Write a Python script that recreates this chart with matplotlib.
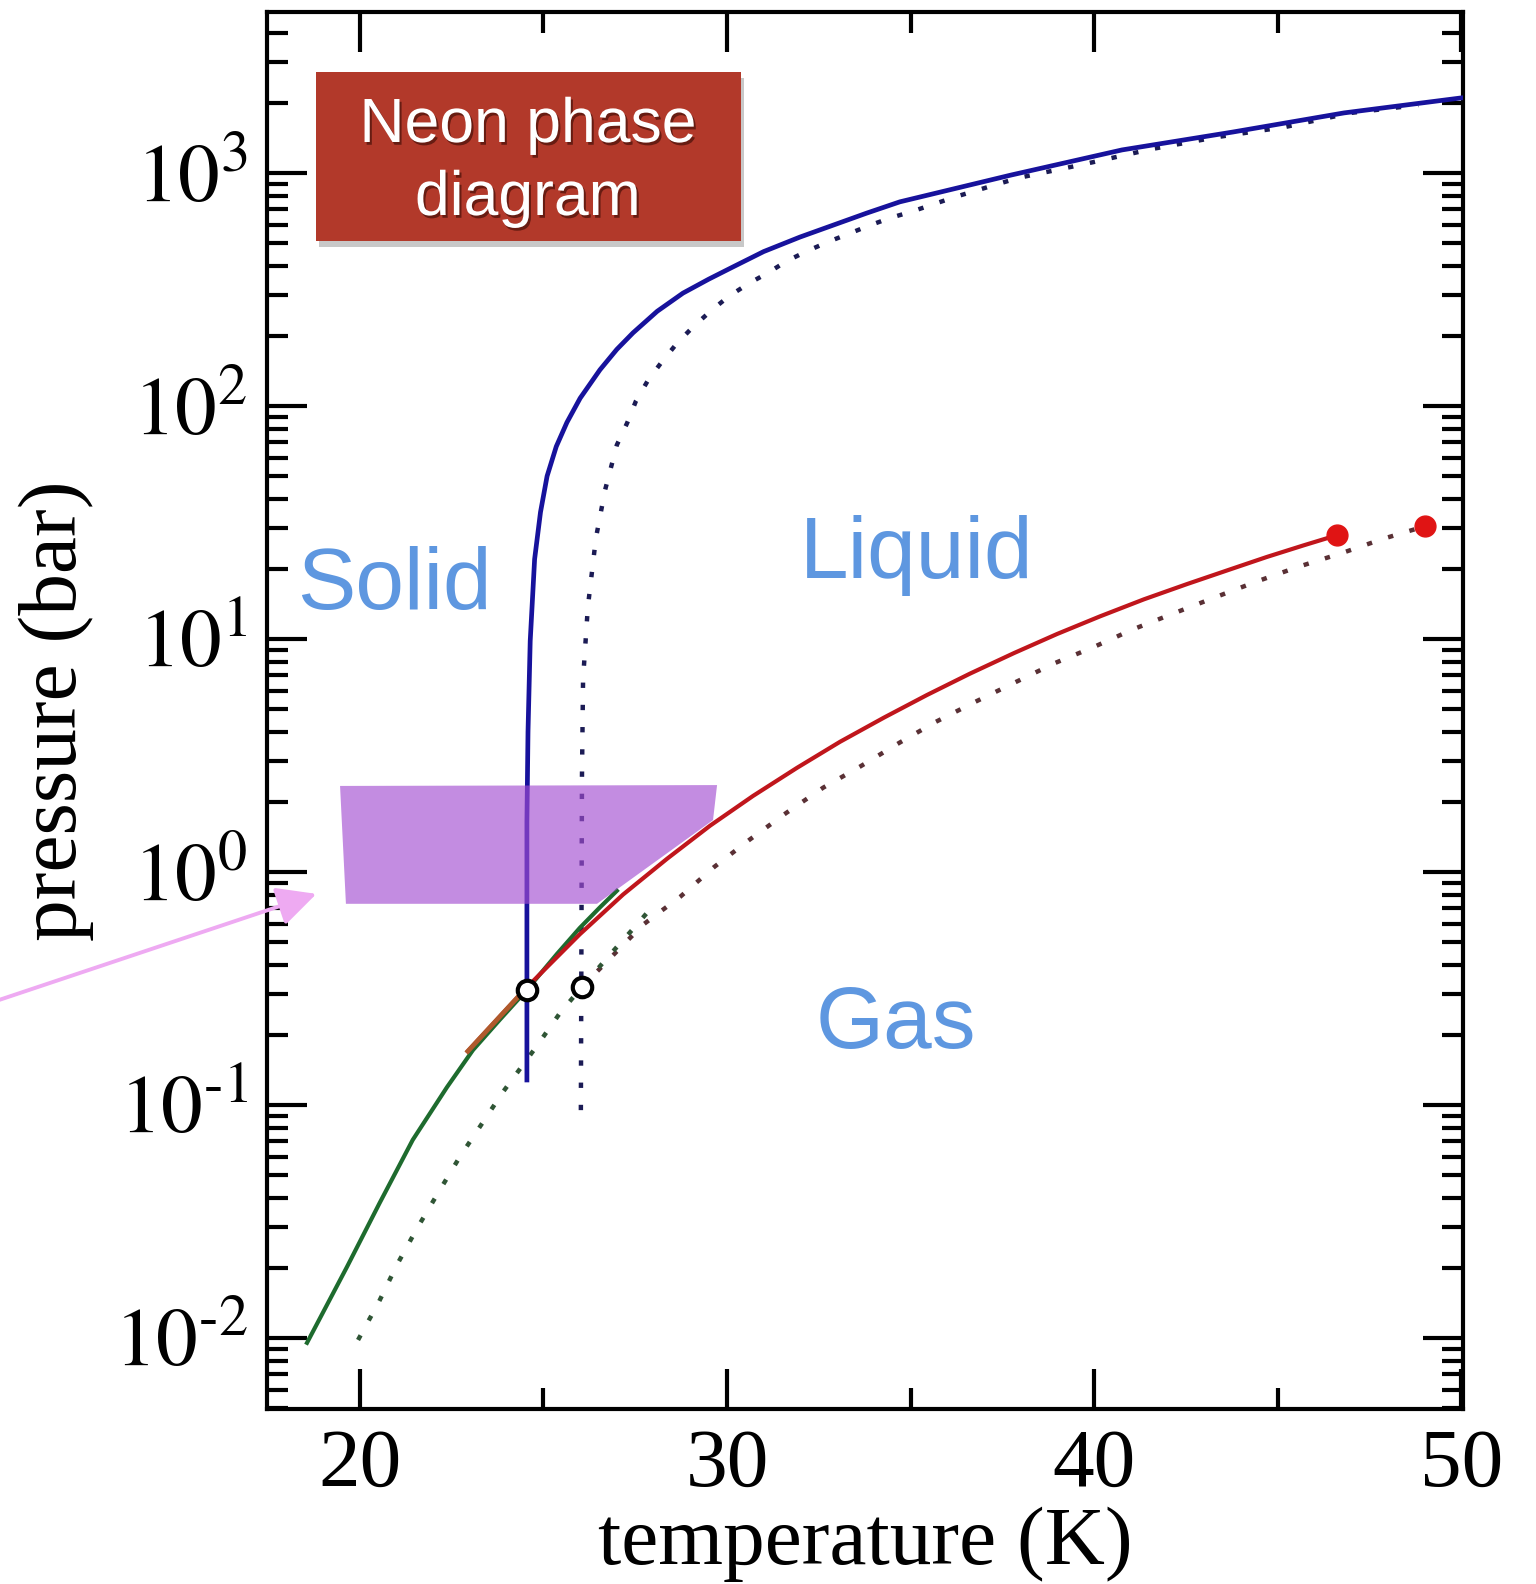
import numpy as np
import matplotlib
matplotlib.use("Agg")
import matplotlib.pyplot as plt
from matplotlib.patches import Polygon, Rectangle
from matplotlib.ticker import LogLocator, NullFormatter
import matplotlib.patheffects as pe

plt.rcParams["font.family"] = ["Liberation Serif", "DejaVu Serif"]
plt.rcParams["mathtext.fontset"] = "stix"

# ---- melting line (solid-liquid) ----
melt_T = [24.55, 24.55, 24.58, 24.64, 24.76, 24.92, 25.10, 25.35, 25.64, 26.00,
          26.54, 27.00, 27.44, 28.10, 28.80, 29.50, 30.16, 31.00, 31.99, 33.81,
          34.71, 37.74, 40.76, 43.79, 46.81, 50.0]
melt_P = [0.128, 1.64, 4.0, 9.8, 22, 35, 50, 67, 85, 108,
          143, 175, 206, 255, 305, 350, 395, 460, 531, 673,
          752, 980, 1256, 1500, 1811, 2100]

melt_ref_T = [26.02, 26.05, 26.08, 26.21, 26.43, 26.68, 27.00, 27.28, 27.52, 27.85,
              28.23, 28.64, 29.07, 29.56, 30.03, 30.57, 31.12, 31.63, 32.18, 32.75,
              33.30, 33.84, 34.44, 35.01, 36.21, 37.93, 39.75, 41.58, 43.38, 45.20,
              47.00, 48.83]
melt_ref_P = [0.095, 2.56, 6.73, 13.7, 27.1, 43.6, 68, 84.5, 105, 129,
              155, 186, 218, 256, 294, 334, 373, 419, 462, 506,
              547, 592, 641, 681, 789, 952, 1093, 1268, 1428, 1575,
              1811, 1958]

# ---- vaporisation line (liquid-gas) ----
vap_T = [22.94, 24.55, 25.99, 27.17, 28.37, 29.54, 30.71, 31.91, 33.08, 34.28,
         35.45, 36.62, 37.82, 38.99, 40.16, 41.36, 42.53, 43.71, 44.71, 45.70, 46.62]
vap_P = [0.17, 0.32, 0.54, 0.80, 1.14, 1.58, 2.12, 2.80, 3.62, 4.60,
         5.75, 7.10, 8.70, 10.5, 12.5, 14.8, 17.2, 19.9, 22.5, 25.2, 27.9]

vap_ref_T = [26.05, 27.71, 28.17, 28.72, 29.65, 30.60, 31.61, 32.62, 33.62, 34.69,
             35.69, 36.76, 37.82, 38.94, 40.00, 41.06, 42.18, 43.30, 44.41, 45.56,
             46.76, 47.87, 49.02]
vap_ref_P = [0.321, 0.593, 0.673, 0.781, 1.05, 1.37, 1.79, 2.30, 2.83, 3.58,
             4.41, 5.37, 6.48, 7.89, 9.25, 11.0, 12.9, 15.1, 17.6, 20.4,
             23.4, 26.9, 30.5]

# ---- sublimation line (solid-gas) ----
sub_T = [18.56, 19.65, 20.54, 21.44, 22.37, 23.08, 23.81, 24.55, 25.37, 25.99, 26.54, 27.00]
sub_P = [0.00953, 0.0202, 0.038, 0.0708, 0.119, 0.172, 0.232, 0.312, 0.445, 0.575, 0.705, 0.83]

sub_ref_T = [19.95, 20.52, 21.01, 21.55, 22.13, 22.72, 23.30, 23.90, 24.82, 25.45,
             26.05, 26.81, 27.49, 27.82]
sub_ref_P = [0.0098, 0.0143, 0.0206, 0.0294, 0.0419, 0.0598, 0.0820, 0.1138, 0.179, 0.248,
             0.321, 0.441, 0.581, 0.667]

# triple and critical points
triple_T = [24.55, 26.05]
triple_P = [0.312, 0.321]
crit_T = [46.62, 49.02]
crit_P = [27.9, 30.5]

# highlighted pressure band
band_T = [19.46, 29.73, 29.62, 26.46, 19.62]
band_P = [2.34, 2.36, 1.67, 0.73, 0.73]

x_major = [20, 30, 40, 50]
x_minor = [25, 35, 45]
y_major = [1e-2, 1e-1, 1e0, 1e1, 1e2, 1e3]
y_labels = [r"$10^{\text{-}2}$", r"$10^{\text{-}1}$", r"$10^{0}$",
            r"$10^{1}$", r"$10^{2}$", r"$10^{3}$"]

W, H = 1536, 1584
fig = plt.figure(figsize=(W / 100, H / 100), dpi=100)
ax = fig.add_axes([267 / W, 1 - 1409 / H, (1463 - 267) / W, (1409 - 12) / H])
ax.set_yscale("log")
ax.set_xlim(17.47, 50.05)
ax.set_ylim(10 ** -2.305, 10 ** 3.691)

dots = (0, (1.2, 3.8))
blue = "#17129c"
red = "#c0161c"
green = "#1e6b2e"

ax.plot(melt_ref_T, melt_ref_P, color="#1b1b55", lw=3.2, ls=dots, zorder=2)
ax.plot(vap_ref_T, vap_ref_P, color="#5a3035", lw=3.2, ls=dots, zorder=2)
ax.plot(sub_ref_T, sub_ref_P, color="#2f5535", lw=3.2, ls=dots, zorder=2)

ax.plot(sub_T, sub_P, color=green, lw=3.0, zorder=3)
ax.plot(vap_T, vap_P, color=red, lw=3.0, zorder=3.2)
ax.plot(vap_T[:2], vap_P[:2], color="#b05a2c", lw=3.4, zorder=3.3)
ax.plot(melt_T, melt_P, color=blue, lw=3.4, zorder=3.5)

ax.plot(triple_T, triple_P, ls="none", marker="o", ms=14, mfc="white", mec="black",
        mew=3.0, zorder=5)
ax.plot(crit_T, crit_P, ls="none", marker="o", ms=15, mfc="#e01414", mec="#e01414", zorder=5)

ax.add_patch(Polygon(list(zip(band_T, band_P)), closed=True, facecolor="#a44ed1",
                     edgecolor="none", alpha=0.65, zorder=6))

# axes styling
for s in ax.spines.values():
    s.set_linewidth(3)
ax.set_xticks(x_major)
ax.set_xticks(x_minor, minor=True)
ax.set_xticklabels([str(v) for v in x_major])
ax.set_yticks(y_major)
ax.set_yticklabels(y_labels)
ax.yaxis.set_minor_locator(LogLocator(base=10, subs=np.arange(2, 10), numticks=30))
ax.yaxis.set_minor_formatter(NullFormatter())
ax.tick_params(which="both", direction="in", top=True, right=True, width=3)
ax.tick_params(which="major", length=29, labelsize=60, pad=14)
ax.tick_params(which="minor", length=15)

ax.set_xlabel("temperature (K)", fontsize=60)
ax.set_ylabel("pressure (bar)", fontsize=60)
ax.xaxis.set_label_coords(0.5, -0.07)
ax.yaxis.set_label_coords(-0.145, 0.5)

# phase labels
phase_color = "#5e97e0"
for txt, x, y in [("Solid", 394, 609), ("Liquid", 917, 578), ("Gas", 896, 1048)]:
    fig.text(x / W, 1 - y / H, txt, family=["Liberation Sans", "DejaVu Sans"],
             fontsize=63, color=phase_color, ha="center", va="baseline", zorder=8)

# title box
box = Rectangle((316 / W, 1 - 241 / H), (741 - 316) / W, (241 - 72) / H,
                transform=fig.transFigure, facecolor="#b2392a", edgecolor="none", zorder=8,
                path_effects=[pe.SimplePatchShadow(offset=(2, -4), shadow_rgbFace="#777777",
                                                   alpha=0.4), pe.Normal()])
fig.patches.append(box)
for line, yb in [("Neon phase", 142), ("diagram", 215)]:
    fig.text(528 / W, 1 - yb / H, line, family=["Liberation Sans", "DejaVu Sans"],
             fontsize=45, color="white", ha="center", va="baseline", zorder=9,
             path_effects=[pe.SimplePatchShadow(offset=(1.5, -2), shadow_rgbFace="#2a0500",
                                                alpha=0.55), pe.Normal()])

# pointer arrow
ax.annotate("", xy=(319, H - 893), xytext=(-4, H - 1001),
            xycoords="figure pixels", textcoords="figure pixels",
            arrowprops=dict(arrowstyle="-|>,head_length=0.8,head_width=0.4",
                            color="#eeaaf2", lw=2.8, mutation_scale=30),
            annotation_clip=False, zorder=9)

fig.savefig("out.png", dpi=100, facecolor="white")
